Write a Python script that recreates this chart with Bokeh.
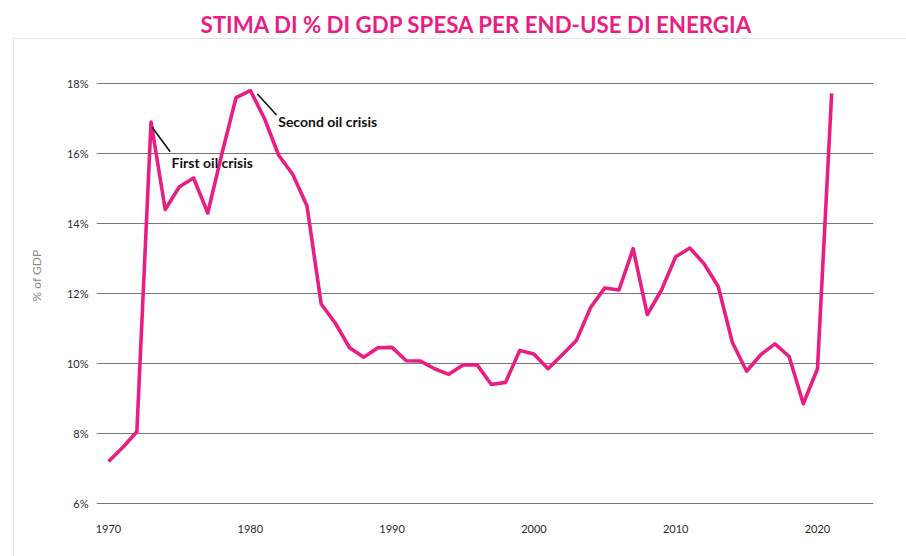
from bokeh.plotting import figure
from bokeh.models import Range1d
from bokeh.core.properties import value
from bokeh.embed import file_html
from bokeh.resources import INLINE

# ---- data ----
years = list(range(1970, 2022))
share_gdp = [
    7.2, 7.6, 8.05, 16.9, 14.4, 15.05, 15.3, 14.3, 16.0, 17.6,   # 1970-1979
    17.8, 17.0, 15.95, 15.4, 14.5, 11.7, 11.15, 10.45, 10.18, 10.45,  # 1980-1989
    10.46, 10.08, 10.07, 9.85, 9.69, 9.96, 9.96, 9.4, 9.46, 10.37,  # 1990-1999
    10.27, 9.85, 10.25, 10.66, 11.6, 12.16, 12.1, 13.28, 11.4, 12.1,  # 2000-2009
    13.05, 13.3, 12.85, 12.2, 10.6, 9.78, 10.25, 10.56, 10.2, 8.85,  # 2010-2019
    9.85, 17.72,                                                    # 2020-2021
]
x_ticks = [1970, 1980, 1990, 2000, 2010, 2020]
y_ticks = [6, 8, 10, 12, 14, 16, 18]
y_tick_labels = ["6%", "8%", "10%", "12%", "14%", "16%", "18%"]
annotations = ["First oil crisis", "Second oil crisis"]
annotation_years = [1973, 1980]
title_text = "STIMA DI % DI GDP SPESA PER END-USE DI ENERGIA"

PINK = "#E91E84"
FONT = "Lato"

p = figure(
    width=906, height=556,
    output_backend="svg", toolbar_location=None,
    x_range=Range1d(1969.154, 2023.95), y_range=Range1d(5.8, 19.229),
    min_border_left=96, min_border_right=33, min_border_top=40, min_border_bottom=46,
)
p.border_fill_color = None
p.background_fill_color = None
p.outline_line_color = None
p.styles = {
    "background": (
        "linear-gradient(#e3e3e3,#e3e3e3) 13px 38px / 1px calc(100% - 38px) no-repeat, "
        "linear-gradient(#e3e3e3,#e3e3e3) 13px 38px / calc(100% - 13px) 1px no-repeat, #ffffff"
    )
}

# title
p.title.text = title_text
p.title.text_color = PINK
p.title.text_font = FONT
p.title.text_font_style = "bold"
p.title.text_font_size = "22.3px"
p.title.align = "left"
p.title.offset = 104
p.title.standoff = 6

# axes
p.xaxis.ticker = x_ticks
p.yaxis.ticker = y_ticks
p.yaxis.major_label_overrides = {t: l for t, l in zip(y_ticks, y_tick_labels)}
for ax in (p.xaxis[0], p.yaxis[0]):
    ax.axis_line_color = None
    ax.major_tick_line_color = None
    ax.minor_tick_line_color = None
    ax.major_tick_out = 0
    ax.major_tick_in = 0
    ax.major_label_text_font = FONT
    ax.major_label_text_font_size = "11px"
    ax.major_label_text_color = "#2b2b2b"
p.xaxis.major_label_standoff = 14
p.yaxis.major_label_standoff = 8
p.yaxis.axis_label = "% of GDP"
p.yaxis.axis_label_text_font = FONT
p.yaxis.axis_label_text_font_size = "12px"
p.yaxis.axis_label_text_font_style = "normal"
p.yaxis.axis_label_text_color = "#8a8a8a"
p.yaxis.axis_label_standoff = 20

p.xgrid.grid_line_color = None
p.ygrid.grid_line_color = "#777777"
p.ygrid.grid_line_width = 1

# main line
p.line(years, share_gdp, line_color=PINK, line_width=3.6, line_join="round")

# annotations with leader lines
peak1 = share_gdp[years.index(annotation_years[0])]
peak2 = share_gdp[years.index(annotation_years[1])]
p.segment(x0=[annotation_years[0] + 0.08, annotation_years[1] + 0.5],
          y0=[peak1 - 0.15, peak2 - 0.1],
          x1=[annotation_years[0] + 1.35, annotation_years[1] + 1.85],
          y1=[peak1 - 0.85, peak2 - 0.7],
          line_color="#111111", line_width=1.6)
p.text(x=[annotation_years[0] + 1.45, annotation_years[1] + 1.97],
       y=[peak1 - 1.16, peak2 - 0.89],
       text=annotations,
       text_font=value(FONT), text_font_style="bold", text_font_size="14px",
       text_color="#111111", text_baseline="middle", text_align="left")

open("out.html", "w").write(file_html(p, INLINE))
